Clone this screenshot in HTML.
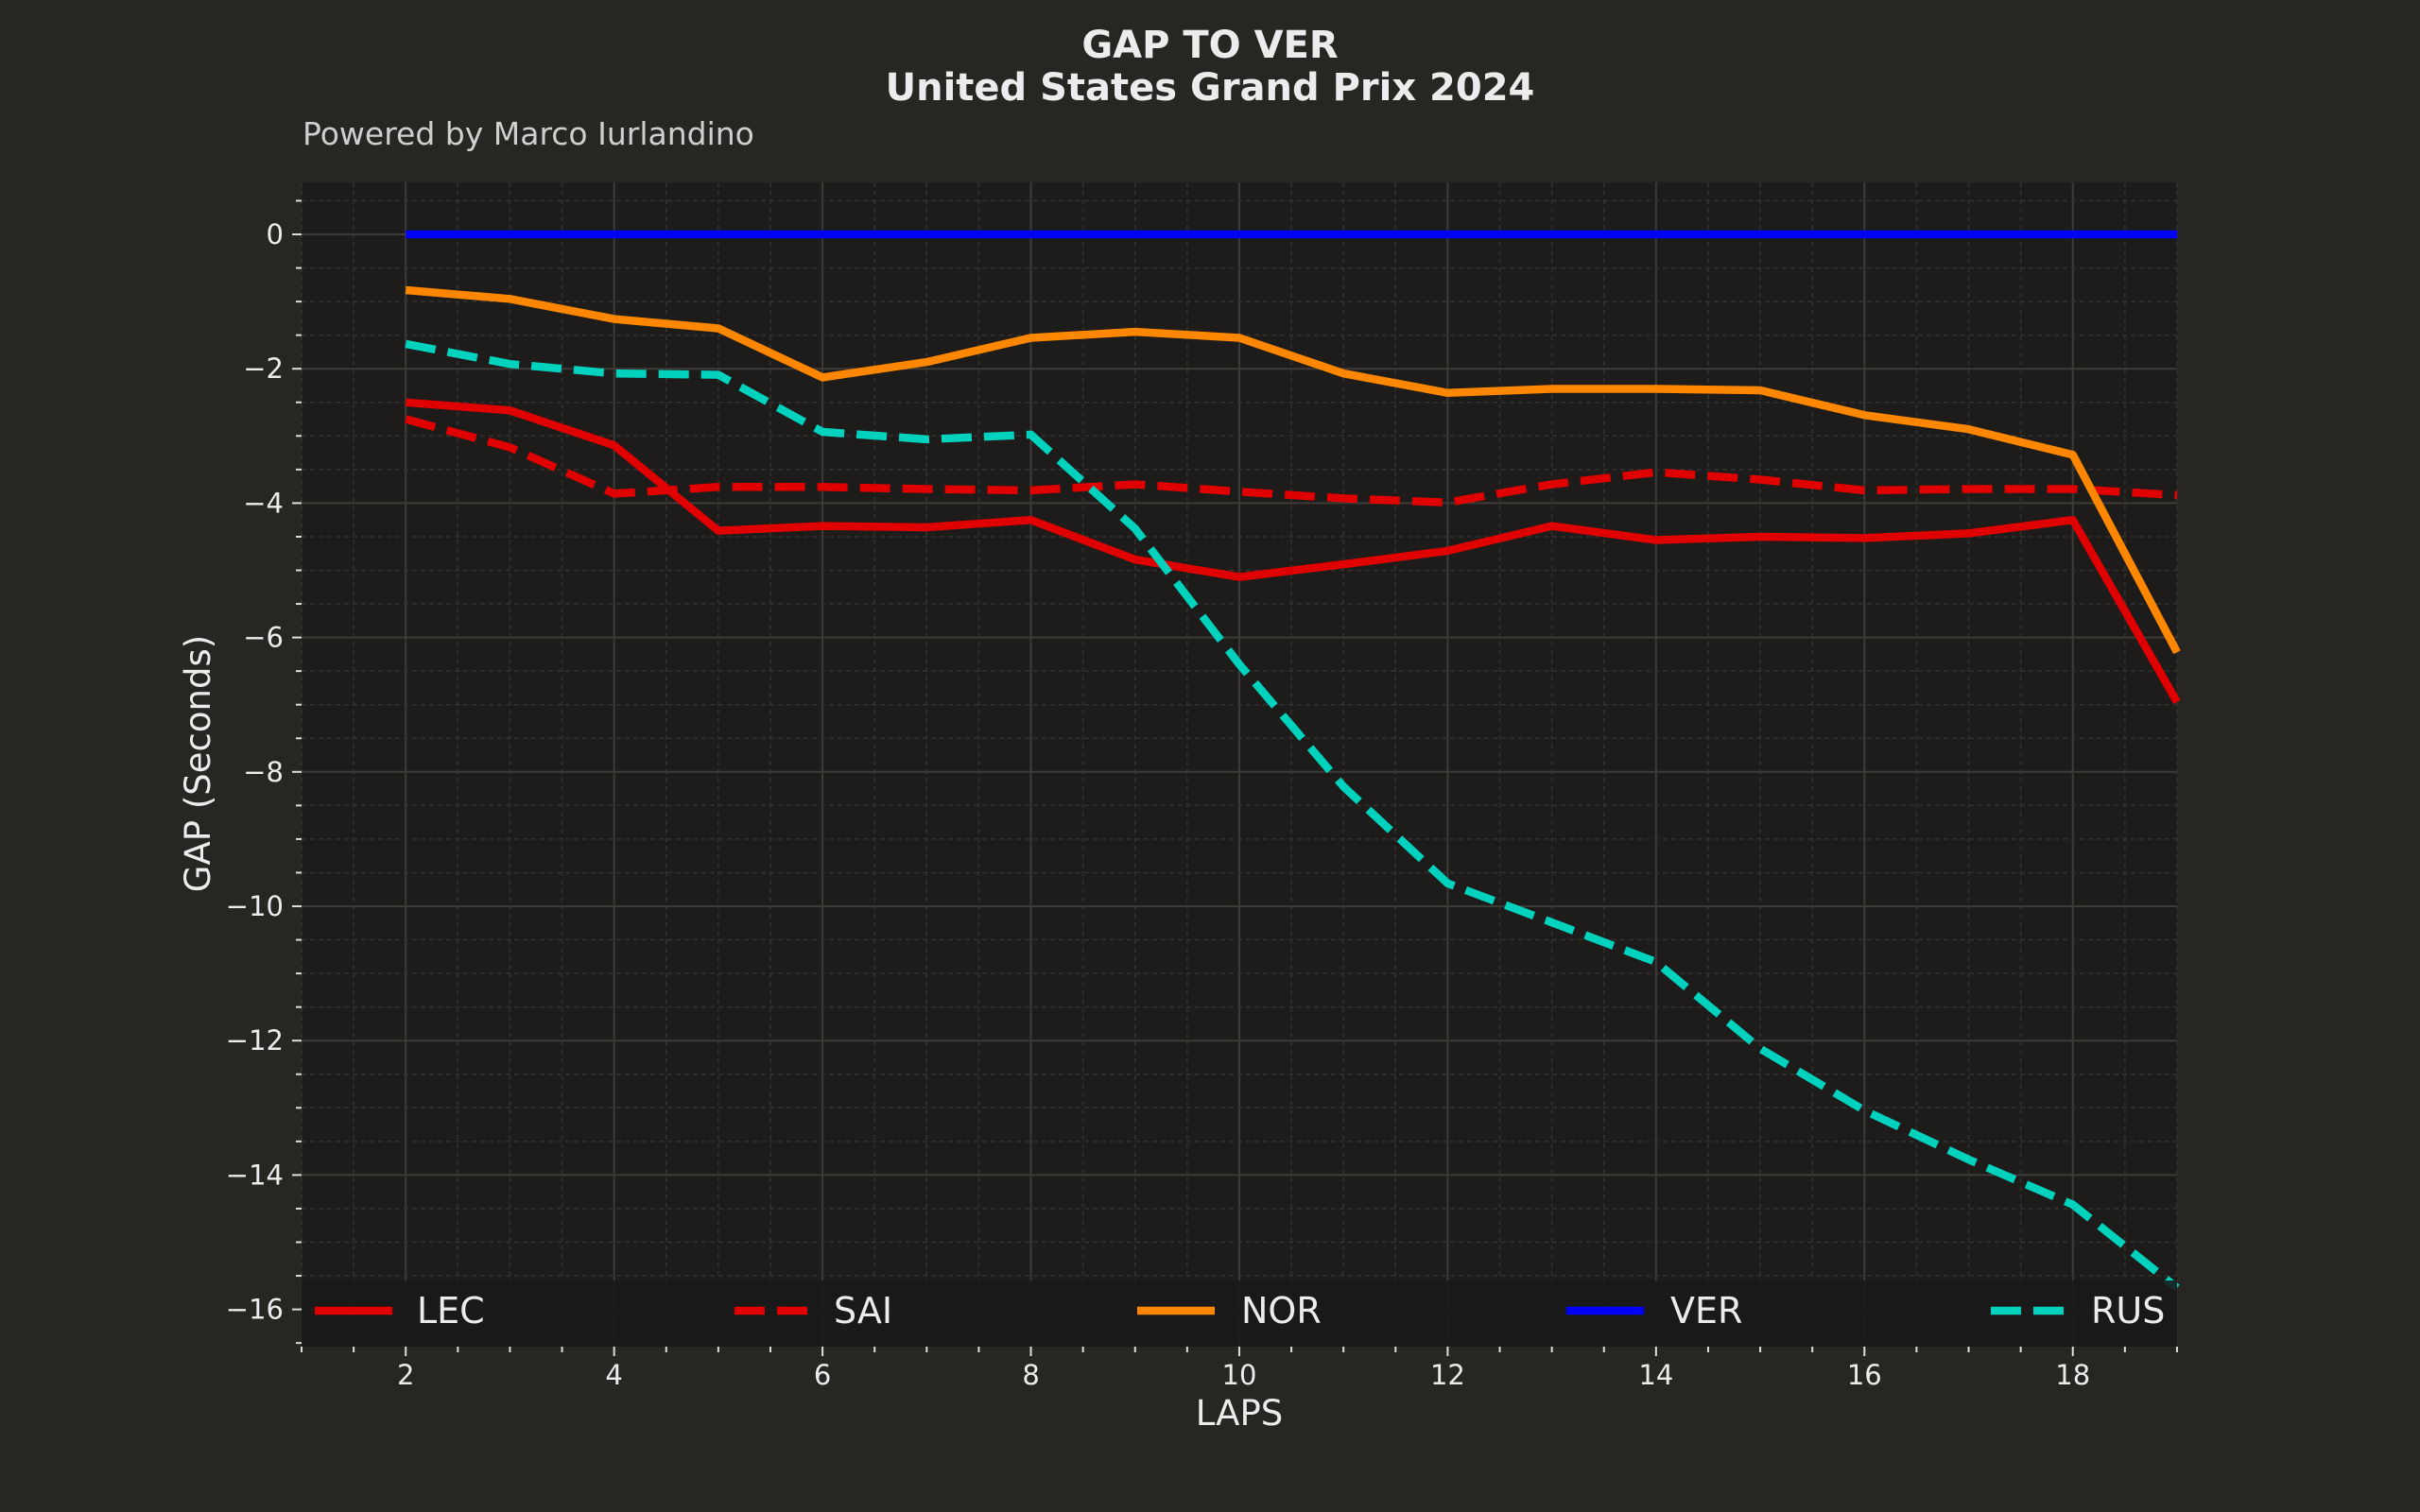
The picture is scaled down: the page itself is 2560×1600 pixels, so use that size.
<!DOCTYPE html>
<html><head><meta charset="utf-8"><style>
html,body{margin:0;padding:0;background:#282623;}
svg{display:block}
text{font-family:"DejaVu Sans","Liberation Sans",sans-serif;fill:#ececec}
</style></head><body>
<svg id="s" width="2560" height="1600" xmlns="http://www.w3.org/2000/svg">
<rect width="2560" height="1600" fill="#282623"/>
<rect x="319" y="193" width="1984" height="1232" fill="#1e1c1a"/>
<g id="grid"></g>
<g id="lines"></g>
<rect x="319" y="1355" width="1984" height="70" fill="#1a1a1a" opacity="0.9"/>
<g id="leg"></g>
<g id="ticks"></g>
<text x="1280" y="61" text-anchor="middle" font-size="40" font-weight="bold">GAP TO VER</text>
<text x="1280" y="106" text-anchor="middle" font-size="40" font-weight="bold">United States Grand Prix 2024</text>
<text x="320" y="153" font-size="33" style="fill:#cfcfcf">Powered by Marco Iurlandino</text>
<text transform="translate(222,808) rotate(-90)" text-anchor="middle" font-size="37">GAP (Seconds)</text>
<text x="1311" y="1508" text-anchor="middle" font-size="37">LAPS</text>
</svg>
<script>
const NS="http://www.w3.org/2000/svg";
const X=L=>319+(L-1)*110.22, Y=v=>248-71.1*v;
function el(p,t,a,txt){const e=document.createElementNS(NS,t);for(const k in a)e.setAttribute(k,a[k]);if(txt!==undefined)e.textContent=txt;document.getElementById(p).appendChild(e);return e;}
for(let L=1;L<=19;L+=0.5){const maj=(L%2===0);const x=X(L);
 el("grid","line",{x1:x,x2:x,y1:193,y2:1425,stroke:maj?"#3d3b38":"#343230","stroke-width":maj?2:1.5,"stroke-dasharray":maj?"":"5,4"});
 el("ticks","line",{x1:x,x2:x,y1:1425,y2:1425+(maj?10:6),stroke:"#dddddd","stroke-width":2});
 if(maj) el("ticks","text",{x:x,y:1465,"text-anchor":"middle","font-size":29},String(L));}
for(let v=0.5;v>=-16.5;v-=0.5){const maj=(Math.abs(v%2)<1e-9);const y=Y(v);
 el("grid","line",{x1:319,x2:2303,y1:y,y2:y,stroke:maj?"#3d3b38":"#343230","stroke-width":maj?2:1.5,"stroke-dasharray":maj?"":"5,4"});
 el("ticks","line",{x1:319-(maj?10:6),x2:319,y1:y,y2:y,stroke:"#dddddd","stroke-width":2});
 if(maj) el("ticks","text",{x:300,y:y+10,"text-anchor":"end","font-size":29},(v<0?"\u2212":"")+Math.abs(v));}
const D={
VER:[0,0,0,0,0,0,0,0,0,0,0,0,0,0,0,0,0,0],
NOR:[-0.83,-0.96,-1.26,-1.40,-2.13,-1.9,-1.54,-1.45,-1.54,-2.07,-2.36,-2.3,-2.3,-2.32,-2.69,-2.9,-3.28,-6.22],
LEC:[-2.5,-2.62,-3.14,-4.41,-4.34,-4.36,-4.25,-4.84,-5.1,-4.91,-4.71,-4.34,-4.55,-4.5,-4.52,-4.45,-4.25,-6.96],
SAI:[-2.75,-3.17,-3.86,-3.76,-3.76,-3.79,-3.81,-3.72,-3.83,-3.93,-3.99,-3.72,-3.54,-3.65,-3.81,-3.79,-3.79,-3.88],
RUS:[-1.63,-1.93,-2.07,-2.09,-2.94,-3.05,-2.98,-4.38,-6.4,-8.22,-9.66,-10.24,-10.83,-12.12,-13.04,-13.77,-14.44,-15.68]};
const S={LEC:["#e00000",""],SAI:["#e00000","32,13"],NOR:["#ff8700",""],VER:["#0000ff",""],RUS:["#00d2be","32,13"]};
["LEC","SAI","NOR","VER","RUS"].forEach(k=>{
 const pts=D[k].map((v,i)=>X(i+2).toFixed(1)+","+Y(v).toFixed(1)).join(" ");
 el("lines","polyline",{points:pts,fill:"none",stroke:S[k][0],"stroke-width":8.5,"stroke-linejoin":"round","stroke-dasharray":S[k][1]});});
const LG=[["LEC",333,441],["SAI",777,882],["NOR",1203,1313],["VER",1657,1767],["RUS",2106,2212]];
LG.forEach(([k,x,tx])=>{el("leg","line",{x1:x,x2:x+82,y1:1387,y2:1387,stroke:S[k][0],"stroke-width":8.5,"stroke-dasharray":S[k][1]});
 el("leg","text",{x:tx,y:1400,"font-size":38},k);});
</script>
</body></html>
